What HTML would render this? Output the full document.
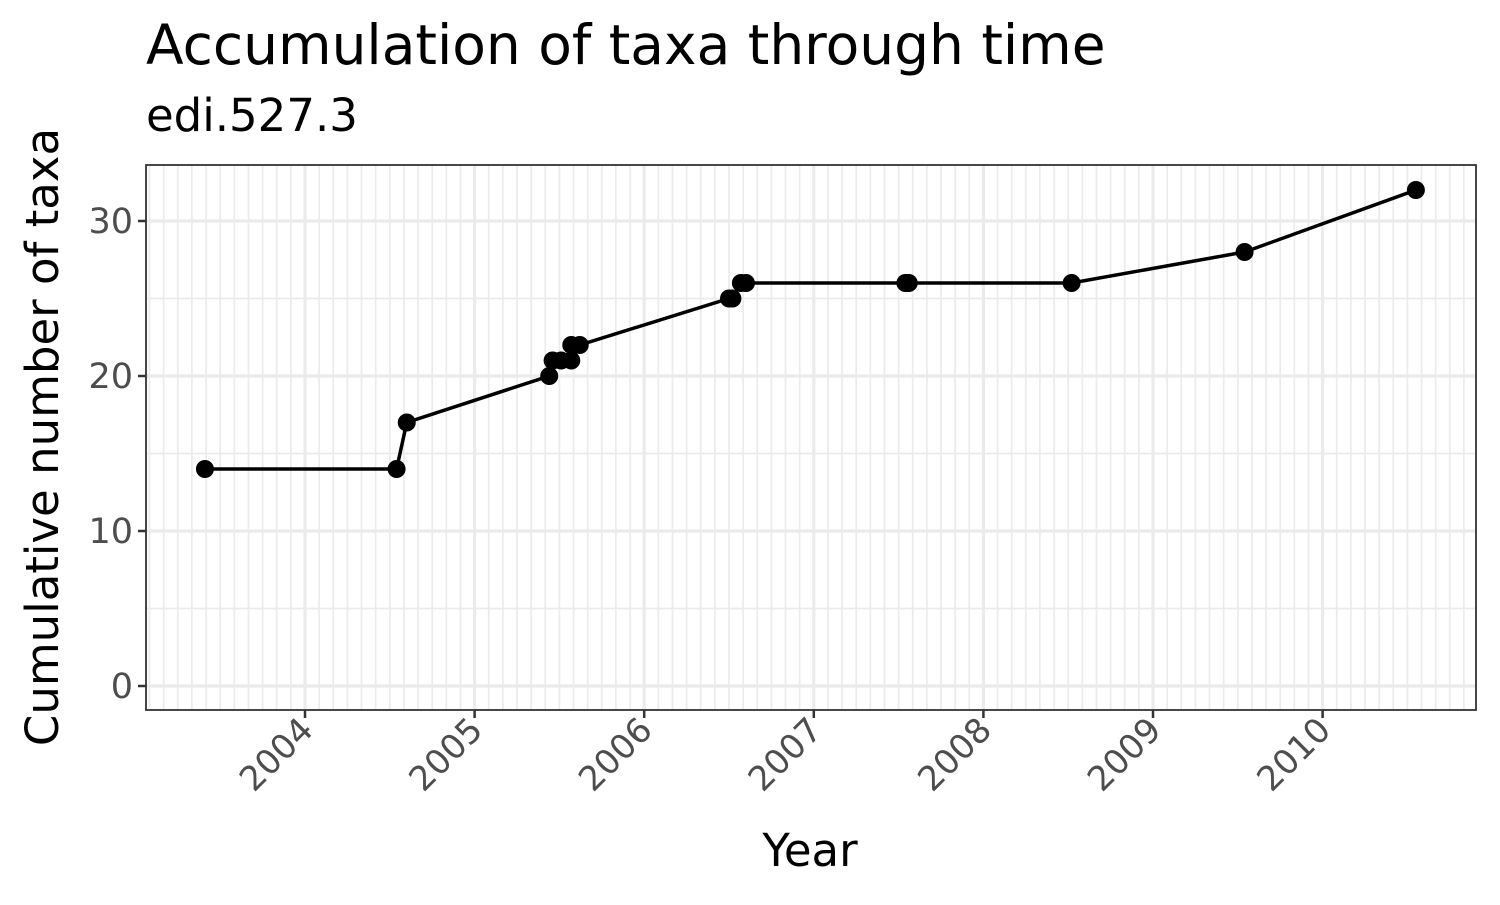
<!DOCTYPE html>
<html><head><meta charset="utf-8"><style>
body{margin:0;background:#fff;font-family:"Liberation Sans","DejaVu Sans",sans-serif}
</style></head><body>
<svg width="1500" height="900" xmlns="http://www.w3.org/2000/svg">
<g id="grid"></g>
<g id="marks"></g>
<rect x="146" y="165" width="1330" height="545" fill="none" stroke="#333" stroke-width="1.8"/>
<g id="axes"></g>
<text x="146" y="64" font-size="55" fill="#000" font-family="DejaVu Sans, sans-serif">Accumulation of taxa through time</text>
<text x="146" y="131" font-size="45" fill="#000" font-family="DejaVu Sans, sans-serif">edi.527.3</text>
<text x="810" y="866" font-size="45" text-anchor="middle" fill="#000" font-family="DejaVu Sans, sans-serif">Year</text>
<text transform="translate(58,437) rotate(-90)" font-size="45" text-anchor="middle" fill="#000" font-family="DejaVu Sans, sans-serif">Cumulative number of taxa</text>
</svg>
<script>
const years=[2003.41,2004.54,2004.60,2005.44,2005.46,2005.51,2005.57,2005.57,2005.62,2006.50,2006.52,2006.57,2006.60,2007.54,2007.56,2008.52,2009.54,2010.55];
const counts=[14,14,17,20,21,21,21,22,22,25,25,26,26,26,26,26,28,32];
const xTicks=[2004,2005,2006,2007,2008,2009,2010];
const yTicks=[0,10,20,30];
const NS="http://www.w3.org/2000/svg";
function X(v){return 305+(v-2004)*169.6;}
function Y(v){return 686-v*15.5;}
function mk(t,a,p){const e=document.createElementNS(NS,t);for(const k in a)e.setAttribute(k,a[k]);p.appendChild(e);return e;}
const g=document.getElementById('grid'),m=document.getElementById('marks'),ax=document.getElementById('axes');
for(let mo=0;mo<12*9;mo++){const v=2003+mo/12;const x=X(v);if(x<147||x>1475)continue;
 const l=mk('line',{x1:x,x2:x,y1:165,y2:710,stroke:'#ebebeb','stroke-width':mo%12==0?3.2:1.7},g);
 }
for(let v=-5;v<=35;v+=5){const y=Y(v);if(y<166||y>709)continue;
 const l=mk('line',{x1:146,x2:1476,y1:y,y2:y,stroke:'#ebebeb','stroke-width':v%10==0?3.2:1.7},g);
 }
const pl=mk('polyline',{points:years.map((v,i)=>X(v)+','+Y(counts[i])).join(' '),fill:'none',stroke:'#000','stroke-width':3.5},m);

years.forEach((v,i)=>{const c=mk('circle',{cx:X(v),cy:Y(counts[i]),r:9,fill:'#000'},m);
 });
xTicks.forEach(v=>{const x=X(v);
 const t=mk('line',{x1:x,x2:x,y1:710,y2:718,stroke:'#333','stroke-width':2.5},ax);
 
 const s=mk('text',{transform:`translate(${x+10},${732}) rotate(-45)`,'text-anchor':'end','font-size':34,fill:'#4d4d4d','font-family':'DejaVu Sans, sans-serif'},ax);
 s.textContent=v;});
yTicks.forEach(v=>{const y=Y(v);
 const t=mk('line',{x1:138,x2:146,y1:y,y2:y,stroke:'#333','stroke-width':2.5},ax);
 
 const s=mk('text',{x:133,y:y+12,'text-anchor':'end','font-size':35,fill:'#4d4d4d','font-family':'DejaVu Sans, sans-serif'},ax);
 s.textContent=v;});
</script>
</body></html>
